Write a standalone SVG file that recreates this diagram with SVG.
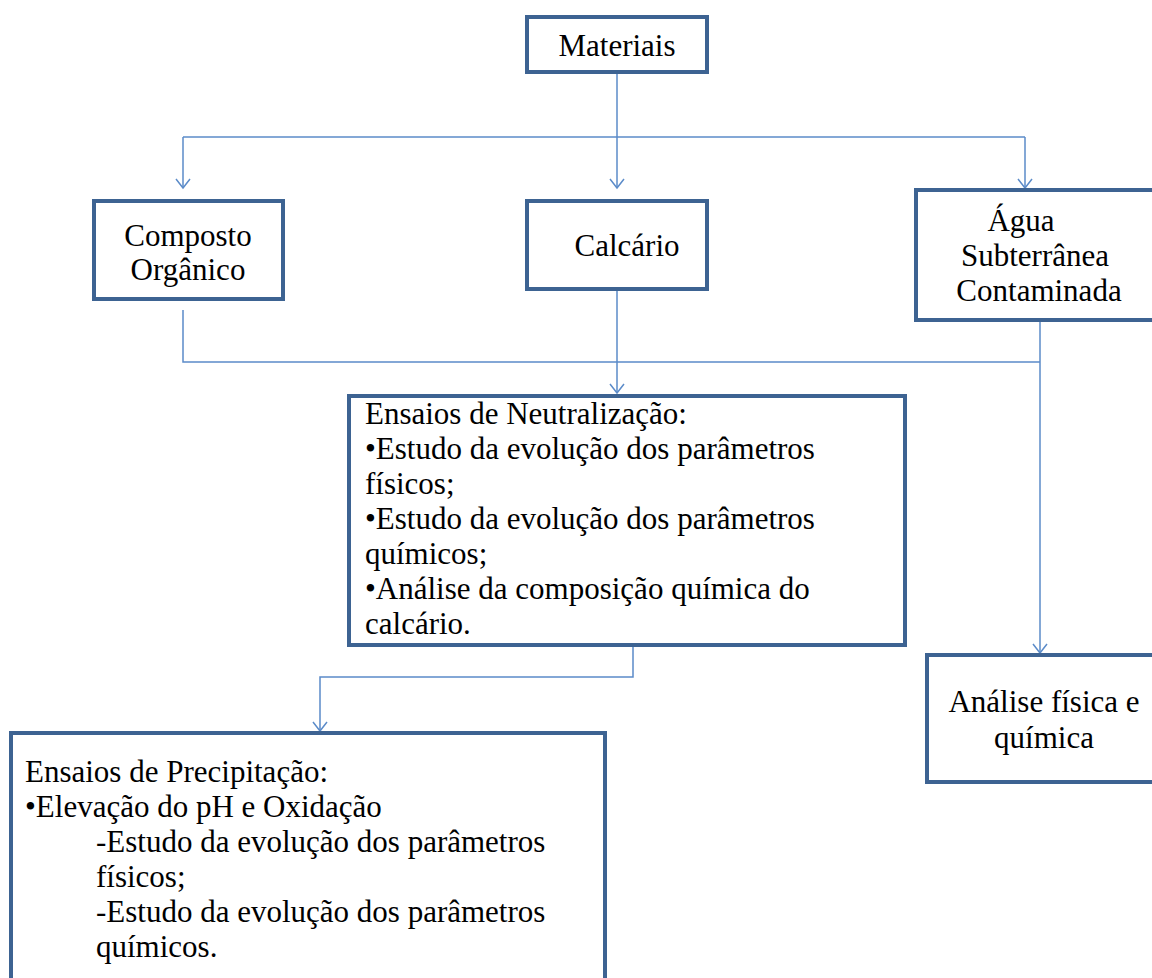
<svg xmlns="http://www.w3.org/2000/svg" width="1152" height="978" viewBox="0 0 1152 978" font-family="'Liberation Serif', 'Times New Roman', Times, serif">
<defs>
<marker id="arr" markerWidth="20" markerHeight="20" refX="10" refY="10" orient="auto" markerUnits="userSpaceOnUse">
<path d="M1,3 L10,10 L1,17" fill="none" stroke="#5b8bc9" stroke-width="1.5"/>
</marker>
</defs>
<style>
.box{fill:#fff;stroke:#3d6392;stroke-width:4}
.c{fill:none;stroke:#5b8bc9;stroke-width:1.5}
.t{font-family:'Liberation Serif', 'Times New Roman', Times, serif;font-size:31px;fill:#000}
.m{text-anchor:middle}
</style>
<rect width="1152" height="978" fill="#fff"/>
<g id="connectors">
<path class="c" d="M617,72 V188" marker-end="url(#arr)"/>
<path class="c" d="M183,137 H1025"/>
<path class="c" d="M183,137 V188" marker-end="url(#arr)"/>
<path class="c" d="M1025,137 V188" marker-end="url(#arr)"/>
<path class="c" d="M183,310 V362 H1040"/>
<path class="c" d="M617,289 V393" marker-end="url(#arr)"/>
<path class="c" d="M1040,320 V653" marker-end="url(#arr)"/>
<path class="c" d="M633,645 V677 H320 V731" marker-end="url(#arr)"/>
</g>
<g id="materiais">
<rect class="box" x="527" y="17" width="180" height="55"/>
<text class="t m" x="617" y="56">Materiais</text>
</g>
<g id="composto">
<rect class="box" x="94" y="201" width="189" height="98"/>
<text class="t m" x="188" y="246">Composto</text>
<text class="t m" x="188" y="280">Orgânico</text>
</g>
<g id="calcario">
<rect class="box" x="527" y="201" width="180" height="88"/>
<text class="t m" x="627" y="256">Calcário</text>
</g>
<g id="agua">
<rect class="box" x="916" y="190" width="250" height="130"/>
<text class="t m" x="1021" y="231">Água</text>
<text class="t m" x="1035" y="266">Subterrânea</text>
<text class="t m" x="1039" y="301">Contaminada</text>
</g>
<g id="neutralizacao">
<rect class="box" x="349" y="396" width="556" height="249"/>
<text class="t" x="365" y="424">Ensaios de Neutralização:</text>
<text class="t" x="365" y="459">•Estudo da evolução dos parâmetros</text>
<text class="t" x="365" y="494">físicos;</text>
<text class="t" x="365" y="529">•Estudo da evolução dos parâmetros</text>
<text class="t" x="365" y="564">químicos;</text>
<text class="t" x="365" y="599">•Análise da composição química do</text>
<text class="t" x="365" y="634">calcário.</text>
</g>
<g id="analise">
<rect class="box" x="927" y="655" width="240" height="127"/>
<text class="t m" x="1044" y="712">Análise física e</text>
<text class="t m" x="1044" y="748">química</text>
</g>
<g id="precipitacao">
<rect class="box" x="11" y="733" width="594" height="260"/>
<text class="t" x="25" y="782">Ensaios de Precipitação:</text>
<text class="t" x="25" y="817">•Elevação do pH e Oxidação</text>
<text class="t" x="96" y="852">-Estudo da evolução dos parâmetros</text>
<text class="t" x="96" y="887">físicos;</text>
<text class="t" x="96" y="922">-Estudo da evolução dos parâmetros</text>
<text class="t" x="96" y="957">químicos.</text>
</g>
</svg>
